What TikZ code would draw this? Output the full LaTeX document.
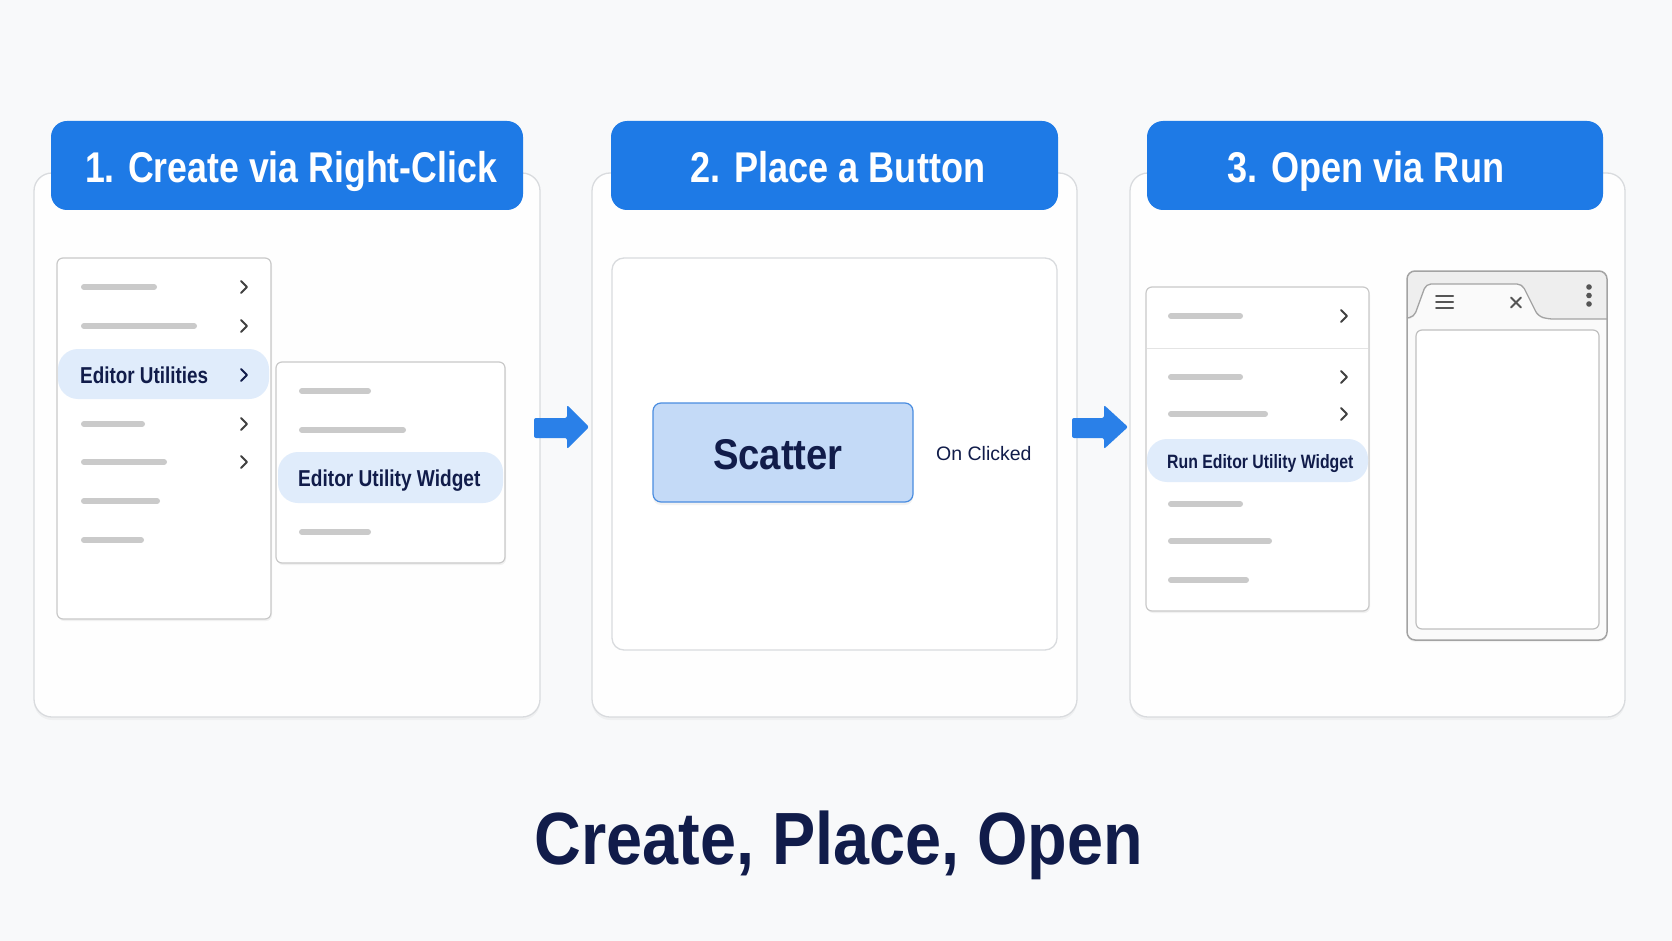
\documentclass[tikz,border=0pt]{standalone}
\usepackage{fontspec}
\setmainfont{Liberation Sans}
\usepackage{graphicx}
\usetikzlibrary{shadows}
\definecolor{bgc}{HTML}{F8F9FA}
\definecolor{panelfill}{HTML}{FEFEFE}
\definecolor{panelborder}{HTML}{D9DBDE}
\definecolor{hdrblue}{HTML}{1E7AE6}
\definecolor{arrblue}{HTML}{2A80E8}
\definecolor{navy}{HTML}{111C4A}
\definecolor{lgray}{HTML}{CACACA}
\definecolor{chevgray}{HTML}{404040}
\definecolor{hilite}{HTML}{E0ECFB}
\definecolor{btnfill}{HTML}{C4DAF7}
\definecolor{btnborder}{HTML}{4A8DE0}
\definecolor{menuborder}{HTML}{C9C9C9}
\definecolor{sepgray}{HTML}{E4E4E4}
\definecolor{winborder}{HTML}{A3A3A3}
\definecolor{winhead}{HTML}{EEEEEE}
\definecolor{icongray}{HTML}{555555}
\begin{document}
\begin{tikzpicture}[x=1pt,y=-1pt,
  panel/.style={fill=panelfill, draw=panelborder, line width=1.3pt, rounded corners=18pt,
    drop shadow={opacity=0.07, shadow xshift=0pt, shadow yshift=-3pt}},
  header/.style={fill=hdrblue, rounded corners=16pt},
  menubox/.style={fill=white, draw=menuborder, line width=1.2pt, rounded corners=6pt,
    drop shadow={opacity=0.10, shadow xshift=1pt, shadow yshift=-2pt}},
  hl/.style={fill=hilite, rounded corners=20pt},
  gline/.style={draw=lgray, line width=6pt, line cap=round},
  chev/.style={draw=chevgray, line width=1.8pt, line cap=round, line join=round},
  chevhl/.style={draw=navy, line width=1.8pt, line cap=round, line join=round},
  hdrtext/.style={inner sep=0pt, anchor=base, text=white, font=\fontsize{43}{46}\selectfont\bfseries},
  itemtext/.style={inner sep=0pt, anchor=base west, text=navy, font=\fontsize{23}{26}\selectfont\bfseries},
  bigarrow/.style={fill=arrblue, rounded corners=2pt},
  icon/.style={draw=icongray, line width=2pt, line cap=round}
]
\useasboundingbox (0,0) rectangle (1672,941);
\fill[bgc] (0,0) rectangle (1672,941);

% ---------- panels ----------
\draw[panel] (34,173) rectangle (540,717);
\draw[panel] (592,173) rectangle (1077,717);
\draw[panel] (1130,173) rectangle (1625,717);

% ---------- headers ----------
\fill[header] (51,121) rectangle (523,210);
\fill[header] (611,121) rectangle (1058,210);
\fill[header] (1147,121) rectangle (1603,210);
\node[hdrtext] (h1) at (291,183) {\scalebox{0.83}[1]{1. Create via Right-Click}};
\node[hdrtext] (h2) at (838,183) {\scalebox{0.84}[1]{2. Place a Button}};
\node[hdrtext] (h3) at (1366,183) {\scalebox{0.84}[1]{3. Open via Run}};

% ---------- arrows ----------
\fill[bigarrow] (534,418) -- (567,418) -- (567,405) -- (589,427) -- (567,449) -- (567,438) -- (534,438) -- cycle;
\fill[bigarrow] (1072,418) -- (1104,418) -- (1104,405) -- (1128,427) -- (1104,449) -- (1104,438) -- (1072,438) -- cycle;

% ---------- panel 1: context menu ----------
\draw[menubox] (57,258) rectangle (271,619);
\fill[hl] (58,349) rectangle (269,399);
\foreach \y/\e in {287/154, 326/194, 424/142, 462/164, 501/157, 540/141}
  \draw[gline] (84,\y) -- (\e,\y);
\foreach \y in {287,326,424,462}
  \draw[chev] (241,\y-6) -- (247,\y) -- (241,\y+6);
\draw[chevhl] (241,369) -- (247,375) -- (241,381);
\node[itemtext] (eu) at (80,383) {\scalebox{0.82}[1]{Editor Utilities}};

\draw[menubox] (276,362) rectangle (505,563);
\fill[hl] (278,452) rectangle (503,503);
\foreach \y/\e in {391/368, 430/403, 532/368}
  \draw[gline] (302,\y) -- (\e,\y);
\node[itemtext] (euw) at (298,486) {\scalebox{0.83}[1]{Editor Utility Widget}};

% ---------- panel 2: canvas with button ----------
\draw[fill=white, draw=panelborder, line width=1.3pt, rounded corners=12pt] (612,258) rectangle (1057,650);
\draw[fill=btnfill, draw=btnborder, line width=1.2pt, rounded corners=8pt,
  drop shadow={opacity=0.10, shadow xshift=0pt, shadow yshift=-3pt}] (653,403) rectangle (913,502);
\node[inner sep=0pt, anchor=base, text=navy, font=\fontsize{43}{46}\selectfont\bfseries] (scatter) at (778,469) {\scalebox{0.89}[1]{Scatter}};
\node[inner sep=0pt, anchor=base west, text=navy, font=\fontsize{19.5}{22}\selectfont] (onclk) at (936,460) {On Clicked};

% ---------- panel 3: run menu ----------
\draw[menubox] (1146,287) rectangle (1369,611);
\draw[draw=sepgray, line width=1pt] (1147,348) -- (1368,348);
\fill[hl] (1147,439) rectangle (1368,482);
\foreach \y/\e in {316/1240, 377/1240, 414/1265, 504/1240, 541/1269, 580/1246}
  \draw[gline] (1171,\y) -- (\e,\y);
\foreach \y in {316,377,414}
  \draw[chev] (1341,\y-6) -- (1347,\y) -- (1341,\y+6);
\node[inner sep=0pt, anchor=base west, text=navy, font=\fontsize{19.3}{22}\selectfont\bfseries] (run) at (1167,468) {\scalebox{0.82}[1]{Run Editor Utility Widget}};

% ---------- panel 3: window ----------
\fill[white!97!black, rounded corners=8pt, drop shadow={opacity=0.08, shadow xshift=0pt, shadow yshift=-2pt}] (1407,271) rectangle (1607,640);
\begin{scope}
  \clip[rounded corners=8pt] (1407,271) rectangle (1607,640);
  \fill[winhead] (1407,271) rectangle (1607,319);
  \fill[white!98!black] (1407,319) rectangle (1607,640);
\end{scope}
\fill[white!98!black, rounded corners=5pt] (1407,320) -- (1414,318) -- (1426,284) -- (1522,284) -- (1538,317) -- (1546,320) -- cycle;
\draw[winborder, line width=1.3pt, rounded corners=5pt] (1407,318) -- (1414,317) -- (1426,284) -- (1522,284) -- (1538,316) -- (1548,319) -- (1607,319);
\draw[winborder, line width=1.5pt, rounded corners=8pt] (1407,271) rectangle (1607,640);
\draw[fill=white, draw=winborder!70, line width=1.2pt, rounded corners=6pt] (1416,330) rectangle (1599,629);
% icons
\draw[icon] (1436,295.5) -- (1453,295.5);
\draw[icon] (1436,301.5) -- (1453,301.5);
\draw[icon] (1436,307.5) -- (1453,307.5);
\draw[icon] (1511,297.5) -- (1521,307.5);
\draw[icon] (1511,307.5) -- (1521,297.5);
\fill[icongray] (1589,287) circle (2.8pt);
\fill[icongray] (1589,295.5) circle (2.8pt);
\fill[icongray] (1589,304) circle (2.8pt);

% ---------- title ----------
\node[inner sep=0pt, anchor=base, text=navy, font=\fontsize{74}{78}\selectfont\bfseries] (title) at (839,864) {\scalebox{0.875}[1]{Create, Place, Open}};
\end{tikzpicture}
\end{document}
